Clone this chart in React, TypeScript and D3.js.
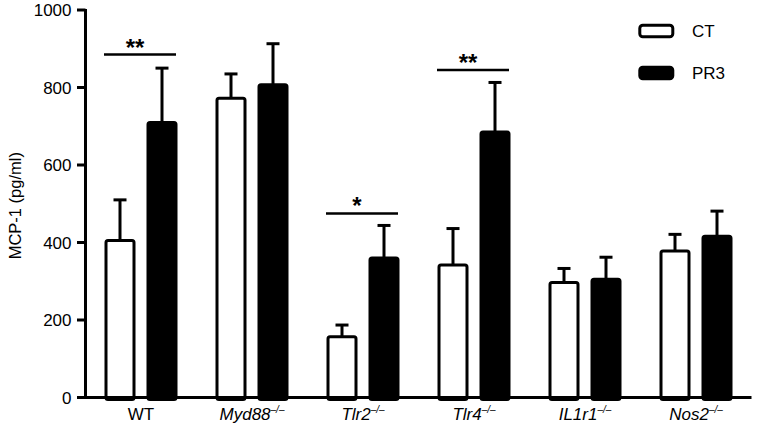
import React, { useEffect, useRef } from "react";
import * as d3 from "d3";

const groups = ["WT", "Myd88", "Tlr2", "Tlr4", "IL1r1", "Nos2"];
const italicGroup = [false, true, true, true, true, true];
const superscript = ["", "–/–", "–/–", "–/–", "–/–", "–/–"];
const series = ["CT", "PR3"];
const ctValues = [405, 772, 157, 342, 297, 378];
const ctErrors = [105, 63, 30, 94, 36, 43];
const pr3Values = [710, 807, 360, 685, 305, 416];
const pr3Errors = [140, 106, 84, 128, 57, 65];
const yTicks = [0, 200, 400, 600, 800, 1000];
const sigGroups = ["WT", "Tlr2", "Tlr4"];
const sigLabels = ["**", "*", "**"];
const sigLevels = [885, 475, 845];

const W = 757;
const H = 429;

export default function App() {
  const ref = useRef<SVGSVGElement | null>(null);

  useEffect(() => {
    const svg = d3.select(ref.current);
    svg.selectAll("*").remove();
    const font = "'Liberation Sans', Arial, sans-serif";

    const x = d3.scaleBand<string>().domain(groups).range([85.5, 751.5]).padding(0);
    const y = d3.scaleLinear().domain([0, 1000]).range([397.5, 10]);
    const off = 21;
    const bw = 28;

    // y axis
    const yAxisX = 85.5;
    svg.append("line").attr("x1", yAxisX).attr("x2", yAxisX).attr("y1", y(1000) - 1).attr("y2", y(0) + 1.5)
      .attr("stroke", "#000").attr("stroke-width", 3);
    const yt = svg.append("g");
    yTicks.forEach((t) => {
      yt.append("line").attr("x1", 77).attr("x2", yAxisX).attr("y1", y(t)).attr("y2", y(t))
        .attr("stroke", "#000").attr("stroke-width", 3);
      yt.append("text").attr("x", 71.5).attr("y", y(t)).attr("dy", "0.36em")
        .attr("text-anchor", "end").attr("font-family", font).attr("font-size", 17)
        .text(String(t));
    });
    svg.append("text")
      .attr("transform", `translate(21,${y(495)}) rotate(-90)`)
      .attr("text-anchor", "middle").attr("font-family", font).attr("font-size", 16.5)
      .text("MCP-1 (pg/ml)");

    // bars
    const drawBars = (vals: number[], errs: number[], sign: number, fill: string) => {
      groups.forEach((g, i) => {
        const cx = (x(g) as number) + x.bandwidth() / 2 + sign * off;
        const top = y(vals[i]);
        const capY = y(vals[i] + errs[i]);
        svg.append("line").attr("x1", cx).attr("x2", cx).attr("y1", top).attr("y2", capY)
          .attr("stroke", "#000").attr("stroke-width", 3);
        svg.append("line").attr("x1", cx - 6.5).attr("x2", cx + 6.5).attr("y1", capY).attr("y2", capY)
          .attr("stroke", "#000").attr("stroke-width", 3);
        svg.append("rect").attr("x", cx - bw / 2).attr("y", top).attr("width", bw)
          .attr("height", y(0) - top + 2).attr("rx", 2)
          .attr("fill", fill).attr("stroke", "#000").attr("stroke-width", 3);
      });
    };
    drawBars(ctValues, ctErrors, -1, "#fff");
    drawBars(pr3Values, pr3Errors, 1, "#000");

    // x axis
    svg.append("line").attr("x1", yAxisX - 1.5).attr("x2", 751.5).attr("y1", y(0)).attr("y2", y(0))
      .attr("stroke", "#000").attr("stroke-width", 3);

    groups.forEach((g, i) => {
      const cx = (x(g) as number) + x.bandwidth() / 2;
      const t = svg.append("text").attr("x", cx).attr("y", 420).attr("text-anchor", "middle")
        .attr("font-family", font).attr("font-size", 17)
        .attr("font-style", italicGroup[i] ? "italic" : "normal");
      t.append("tspan").text(g);
      if (superscript[i]) {
        t.append("tspan").attr("font-size", 10).attr("dy", -7).text(superscript[i]);
      }
    });

    // significance
    sigGroups.forEach((g, i) => {
      const cx = (x(g) as number) + x.bandwidth() / 2;
      const ly = y(sigLevels[i]);
      svg.append("line").attr("x1", cx - off - 16).attr("x2", cx + off + 14).attr("y1", ly).attr("y2", ly)
        .attr("stroke", "#000").attr("stroke-width", 2.5);
      svg.append("text").attr("x", cx - 6).attr("y", ly + 1).attr("text-anchor", "middle")
        .attr("font-family", font).attr("font-size", 24).attr("font-weight", "bold")
        .text(sigLabels[i]);
    });

    // legend
    const legendY = [31, 73];
    series.forEach((s, i) => {
      svg.append("rect").attr("x", 639.8).attr("y", legendY[i] - 5.7).attr("width", 33).attr("height", 11.5)
        .attr("rx", 3).attr("fill", i === 0 ? "#fff" : "#000").attr("stroke", "#000").attr("stroke-width", 3);
      svg.append("text").attr("x", 692).attr("y", legendY[i]).attr("dy", "0.36em")
        .attr("font-family", font).attr("font-size", 17).text(s);
    });
  }, []);

  return (
    <svg ref={ref} width={W} height={H} style={{ position: "absolute", left: 0, top: 0, background: "#fff" }} />
  );
}
